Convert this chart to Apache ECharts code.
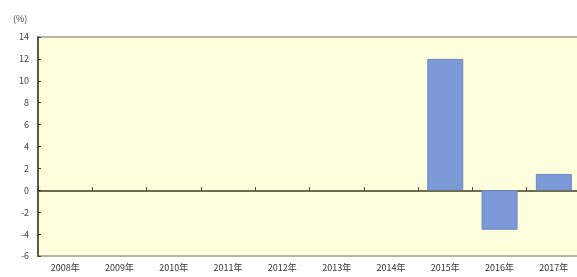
<!DOCTYPE html>
<html>
<head>
<meta charset="utf-8">
<script src="https://cdn.jsdelivr.net/npm/echarts@6/dist/echarts.min.js"></script>
<style>
  html, body { margin: 0; padding: 0; background: #fff; }
  #chart { width: 577px; height: 277px; }
</style>
</head>
<body>
<div id="chart"></div>
<script>
const years = ['2008年', '2009年', '2010年', '2011年', '2012年', '2013年', '2014年', '2015年', '2016年', '2017年']
const growth = [null, null, null, null, null, null, null, 12.0, -3.6, 1.5]
const yTicks = [-6, -4, -2, 0, 2, 4, 6, 8, 10, 12, 14]

const chart = echarts.init(document.getElementById('chart'), null, { renderer: 'canvas' })

const option = {
  animation: false,
  backgroundColor: '#fff',
  grid: {
    left: 38,
    top: 37,
    bottom: 21,
    right: -4,
    outerBoundsMode: 'none',
    containLabel: false,
    show: true,
    backgroundColor: '#fffedd',
    borderColor: '#b4b4a4',
    borderWidth: 2
  },
  graphic: [
    {
      type: 'text',
      left: 13,
      top: 14,
      style: { text: '(%)', fill: '#444', font: '9px "Noto Sans CJK JP", sans-serif' }
    }
  ],
  xAxis: {
    type: 'category',
    data: years,
    axisLine: { onZero: true, lineStyle: { color: '#3d3d22', width: 1.5 } },
    axisTick: { show: true, inside: true, length: 3, lineStyle: { color: '#3d3d22' } },
    axisLabel: {
      color: '#333',
      fontSize: 9,
      fontFamily: '"Noto Sans CJK JP", sans-serif',
      margin: 7
    }
  },
  yAxis: {
    type: 'value',
    min: yTicks[0],
    max: yTicks[yTicks.length - 1],
    interval: 2,
    axisLine: { show: true, lineStyle: { color: '#3d3d22', width: 1.5 } },
    axisTick: { show: true, inside: true, length: 3, lineStyle: { color: '#3d3d22' } },
    splitLine: { show: false },
    axisLabel: {
      color: '#444',
      fontSize: 9,
      fontFamily: '"Noto Sans CJK JP", sans-serif',
      margin: 9
    }
  },
  series: [
    {
      type: 'bar',
      data: growth,
      barWidth: 36,
      itemStyle: { color: '#7b9ad7', borderColor: '#6a87c4', borderWidth: 1 }
    }
  ]
}

chart.setOption(option)
</script>
</body>
</html>
